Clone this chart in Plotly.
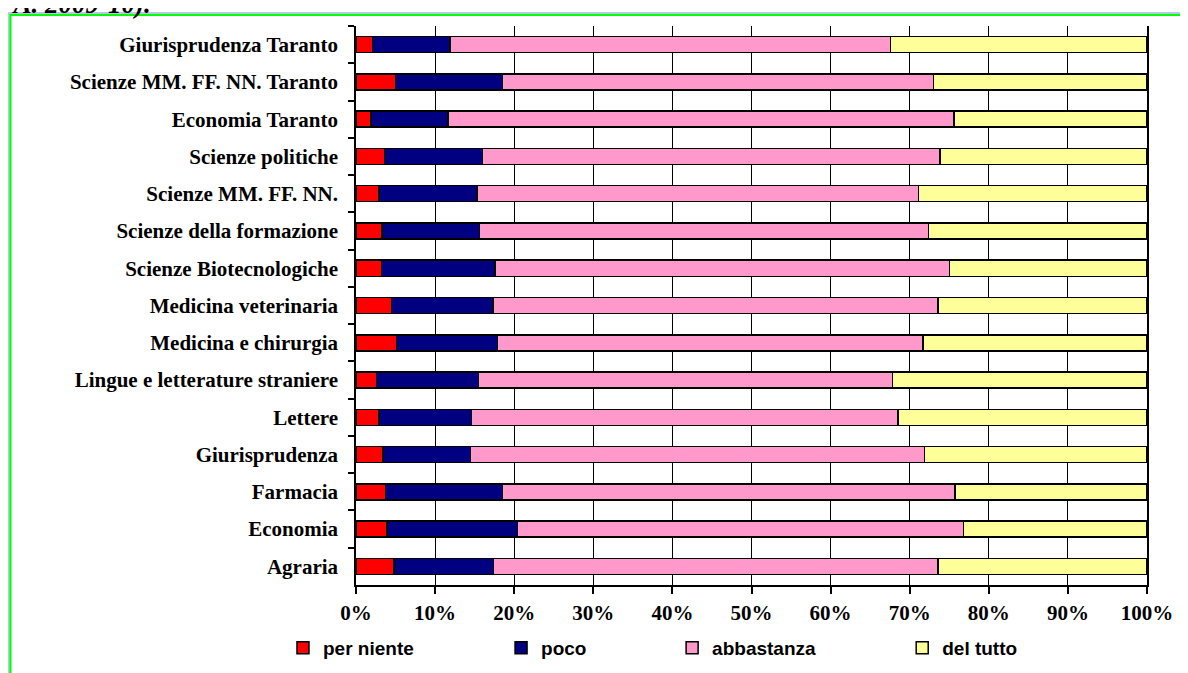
import plotly.graph_objects as go

# faculties, top to bottom as in the chart
facolta = [
    "Giurisprudenza Taranto",
    "Scienze MM. FF. NN. Taranto",
    "Economia Taranto",
    "Scienze politiche",
    "Scienze MM. FF. NN.",
    "Scienze della formazione",
    "Scienze Biotecnologiche",
    "Medicina veterinaria",
    "Medicina e chirurgia",
    "Lingue e letterature straniere",
    "Lettere",
    "Giurisprudenza",
    "Farmacia",
    "Economia",
    "Agraria",
]

# percentages per answer
per_niente = [2.1, 5.0, 1.9, 3.6, 2.9, 3.3, 3.2, 4.5, 5.1, 2.6, 2.9, 3.4, 3.7, 3.9, 4.8]
poco = [9.8, 13.5, 9.7, 12.4, 12.4, 12.3, 14.4, 12.8, 12.8, 12.9, 11.7, 11.1, 14.8, 16.5, 12.6]
abbastanza = [55.7, 54.5, 64.0, 57.8, 55.8, 56.8, 57.4, 56.3, 53.8, 52.3, 53.9, 57.4, 57.2, 56.4, 56.2]
del_tutto = [32.4, 27.0, 24.4, 26.2, 28.9, 27.6, 25.0, 26.4, 28.3, 32.2, 31.5, 28.1, 24.3, 23.2, 26.4]

x_ticks = list(range(0, 101, 10))
x_tick_labels = [f"{v}%" for v in x_ticks]

# the page body adds an 8px margin, so figure pixels = picture pixels - 8
OFF = 8
W, H = 1188, 673
L, R, T, B = 356 - OFF, 1146.7 - OFF, 26 - OFF, 585 - OFF


def px_x(p):
    return (p - OFF - L) / (R - L)


def px_y(p):
    return (B - (p - OFF)) / (B - T)


series = [
    ("per niente", per_niente, "#FF0000", "legend"),
    ("poco", poco, "#000080", "legend2"),
    ("abbastanza", abbastanza, "#FF99CC", "legend3"),
    ("del tutto", del_tutto, "#FFFF99", "legend4"),
]

fig = go.Figure()
for name, vals, color, leg in series:
    fig.add_trace(go.Bar(
        y=facolta, x=vals, name=name, orientation="h",
        marker=dict(color=color, line=dict(color="black", width=1.5)),
        legend=leg,
    ))

legend_font = dict(family="Liberation Sans", size=19, color="black", weight="bold")
leg_x = [283, 501, 672, 902]
legends = {}
for i, key in enumerate(["legend", "legend2", "legend3", "legend4"]):
    legends[key] = dict(
        x=px_x(leg_x[i]), xanchor="left", y=px_y(648), yanchor="middle",
        orientation="h", font=legend_font, bgcolor="rgba(0,0,0,0)",
        itemwidth=30, tracegroupgap=0,
    )

fig.update_layout(
    width=W, height=H,
    margin=dict(l=L, r=W - R, t=T, b=H - B, autoexpand=False),
    barmode="stack",
    bargap=0.57,
    paper_bgcolor="white",
    plot_bgcolor="white",
    showlegend=True,
    **legends,
)

fig.update_xaxes(
    range=[0, 100], tickvals=x_ticks, ticktext=x_tick_labels,
    showgrid=True, gridcolor="black", gridwidth=1.2,
    zeroline=False, showline=True, linecolor="black", linewidth=1.5,
    ticks="outside", ticklen=7, tickwidth=1.5, tickcolor="black",
    ticklabelstandoff=1,
    tickfont=dict(family="Liberation Serif", size=21, color="black", weight="bold"),
    fixedrange=True,
)
fig.update_yaxes(
    categoryorder="array", categoryarray=facolta, autorange="reversed",
    showgrid=False, zeroline=False,
    showline=True, linecolor="black", linewidth=1.5, mirror=True,
    ticks="outside", ticklen=6, tickwidth=1.5, tickcolor="black",
    tickson="boundaries", ticklabelstandoff=12,
    tickfont=dict(family="Liberation Serif", size=21, color="black", weight="bold"),
    fixedrange=True,
)

# page frame (light blue + green) around the chart
fig.add_shape(type="rect", xref="paper", yref="paper",
              x0=px_x(8.3), x1=px_x(1260), y0=px_y(13), y1=px_y(760),
              line=dict(color="#B8C8E4", width=1.8), layer="below")
fig.add_shape(type="rect", xref="paper", yref="paper",
              x0=px_x(10.5), x1=px_x(1260), y0=px_y(15), y1=px_y(760),
              line=dict(color="#00FF00", width=2.2), layer="below")

# caption cut by the page top
fig.add_annotation(
    text="<b><i>A. A. 2009-10).</i></b>", xref="paper", yref="paper",
    x=px_x(153), xanchor="right", y=px_y(21), yanchor="bottom",
    showarrow=False,
    font=dict(family="Liberation Serif", size=27, color="black"),
)

fig.write_html("out.html")
